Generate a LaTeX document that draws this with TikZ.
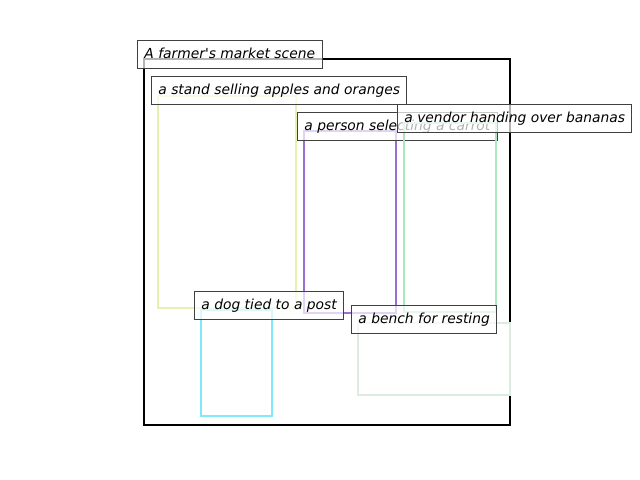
\documentclass[tikz,border=0pt]{standalone}
\usepackage{fontspec}
\setmainfont{DejaVu Sans}

\definecolor{standcol}{RGB}{230,240,175}
\definecolor{personcol}{RGB}{155,110,210}
\definecolor{vendorcol}{RGB}{170,230,190}
\definecolor{dogcol}{RGB}{128,234,248}
\definecolor{benchcol}{RGB}{220,236,224}

\tikzset{
  region/.style={line width=1.8pt},
  caption/.style={draw=black!75, line width=0.7pt, fill=white, fill opacity=0.7,
    text opacity=1, font=\itshape, anchor=north west, inner xsep=5pt,
    inner ysep=3.9pt, text height=8.8pt, text depth=3.5pt}
}

\begin{document}
\begin{tikzpicture}[x=0.01in,y=-0.01in]
\useasboundingbox (0,0) rectangle (640,480);

\draw[line width=2pt] (144,59) rectangle (510,425);
\node[caption] (scene) at (137,40) {A farmer\textquotesingle s market scene};

\draw[region,standcol] (158,96) rectangle (296,308);
\node[caption] (stand) at (151,76) {a stand selling apples and oranges};

\draw[region,personcol] (304,131) rectangle (396,313);
\node[caption] (person) at (297,112) {a person selecting a carrot};

\draw[region,vendorcol] (404,123) rectangle (496,312);
\node[caption] (vendor) at (397,104) {a vendor handing over bananas};

\draw[region,dogcol] (201,310) rectangle (272,416);
\node[caption] (dog) at (194,291) {a dog tied to a post};

\draw[region,benchcol] (358,323) rectangle (510,395);
\node[caption] (bench) at (351,305) {a bench for resting};
\end{tikzpicture}
\end{document}
